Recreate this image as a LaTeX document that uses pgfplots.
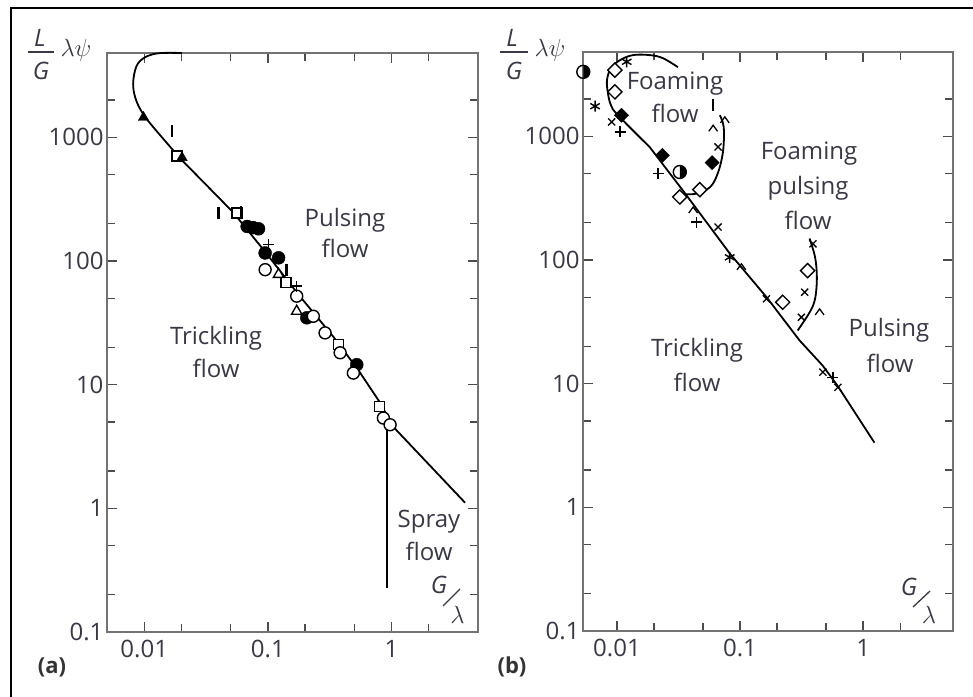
\documentclass[border=0pt]{standalone}
\usepackage{pgfplots}
\pgfplotsset{compat=1.18}
\usepackage{fontspec}
\setmainfont{Open Sans}
\definecolor{lbl}{rgb}{0.22,0.22,0.28}

% open caret and half-filled circle marks
\pgfdeclareplotmark{caret}{%
  \pgfpathmoveto{\pgfqpoint{-0.8\pgfplotmarksize}{-0.5\pgfplotmarksize}}%
  \pgfpathlineto{\pgfqpoint{0pt}{0.6\pgfplotmarksize}}%
  \pgfpathlineto{\pgfqpoint{0.8\pgfplotmarksize}{-0.5\pgfplotmarksize}}%
  \pgfusepathqstroke}
\pgfdeclareplotmark{halfdisc}{%
  \pgfpathcircle{\pgfpointorigin}{\pgfplotmarksize}%
  \pgfusepathqstroke
  \pgfpathmoveto{\pgfqpoint{0pt}{\pgfplotmarksize}}%
  \pgfpatharc{90}{-90}{\pgfplotmarksize}%
  \pgfpathclose
  \pgfusepathqfill}

\pgfplotsset{
  regime/.style={
    scale only axis,
    height=579pt,
    ymin=0.1, ymax=4800,
    xtick={0.01,0.1,1}, xticklabels={0.01,0.1,1},
    ytick={0.1,1,10,100,1000}, yticklabels={0.1,1,10,100,1000},
    minor xtick={0.02,0.05,0.2,0.5,2},
    minor ytick={0.2,0.5,2,5,20,50,200,500,2000},
    major tick length=10pt, minor tick length=8pt,
    tick style={black!70, line width=1.3pt},
    axis line style={black!55, line width=1.8pt},
    tick label style={font=\fontsize{24}{28}\selectfont, text=lbl},
    xticklabel style={yshift=-5pt},
    clip=false,
    anchor=south west,
  },
  curve/.style={black, line width=1.8pt, mark=none},
  opencirc/.style={only marks, mark=*, mark size=6pt, mark options={fill=white, draw=black, line width=1.4pt}},
  fullcirc/.style={only marks, mark=*, mark size=6.5pt, mark options={fill=black, draw=black}},
  opensq/.style={only marks, mark=square*, mark size=5pt, mark options={fill=white, draw=black, line width=1.4pt}},
  opentri/.style={only marks, mark=triangle*, mark size=6pt, mark options={fill=white, draw=black, line width=1.4pt}},
  fulltri/.style={only marks, mark=triangle*, mark size=6pt, mark options={fill=black, draw=black}},
  vbar/.style={only marks, mark=|, mark size=6pt, mark options={draw=black, line width=2.6pt}},
  cross/.style={only marks, mark=+, mark size=5.5pt, mark options={draw=black, line width=1.4pt}},
  xmk/.style={only marks, mark=x, mark size=5pt, mark options={draw=black, line width=1.3pt}},
  astmk/.style={only marks, mark=asterisk, mark size=5.5pt, mark options={draw=black, line width=1.4pt}},
  opendia/.style={only marks, mark=square*, mark size=5pt, mark options={rotate=45, fill=white, draw=black, line width=1.4pt}},
  fulldia/.style={only marks, mark=square*, mark size=5pt, mark options={rotate=45, fill=black, draw=black}},
  hat/.style={only marks, mark=caret, mark size=5.5pt, mark options={draw=black, line width=1.3pt}},
  halfc/.style={only marks, mark=halfdisc, mark size=6.5pt, mark options={fill=black, draw=black, line width=1.4pt}},
}
\tikzset{lab/.style={anchor=base, inner sep=0pt, font=\fontsize{24}{28}\selectfont, text=lbl}}

\begin{document}
\begin{tikzpicture}
\useasboundingbox (0,0) rectangle (973pt,696pt);
\draw[line width=2.5pt] (11pt,-5pt) -- (11pt,688pt) -- (980pt,688pt);

% ---------- (a)
\begin{loglogaxis}[regime, width=371pt, xmin=0.005, xmax=5.0, at={(107pt,64pt)}]
\addplot[curve, smooth, tension=0.6] coordinates {
 (0.0202,4800) (0.01346,4790) (0.0106,4530) (0.00894,3975) (0.0083,3237)
 (0.00815,2540) (0.0086,1995) (0.0096,1594) (0.0115,1250) (0.0195,676)};
\addplot[curve] coordinates {
 (0.0195,676) (0.0524,247) (0.0916,124) (0.182,51.6) (0.337,24.5)
 (0.536,13.2) (0.807,7.15) (1.03,4.57) (3.93,1.11)};
\addplot[black, line width=1.2pt] coordinates {(0.92,4.5) (0.92,0.227)};
\addplot[opensq] coordinates {(0.01837,706) (0.0561,245) (0.140,66.6) (0.372,21.1) (0.797,6.67)};
\addplot[fulltri] coordinates {(0.00987,1445) (0.0202,685)};
\addplot[opentri] coordinates {(0.122,77.8) (0.171,39.2)};
\addplot[fullcirc] coordinates {(0.068,190) (0.076,186) (0.084,182) (0.095,116) (0.122,106) (0.2065,34.7) (0.523,14.5)};
\addplot[opencirc] coordinates {(0.095,85) (0.171,51.9) (0.233,35.7) (0.290,26.2) (0.384,18.1) (0.491,12.4) (0.859,5.37) (0.973,4.74)};
\addplot[vbar] coordinates {(0.01675,1125) (0.0398,245) (0.0608,247) (0.142,85)};
\addplot[cross] coordinates {(0.101,136) (0.171,62.5)};
\end{loglogaxis}

% ---------- (b)
\begin{loglogaxis}[regime, width=370pt, xmin=0.0053, xmax=5.37, at={(583pt,65pt)}]
\addplot[curve, smooth, tension=0.6] coordinates {
 (0.0313,3620) (0.0236,4280) (0.0185,4530) (0.0135,4530) (0.0106,4125)
 (0.00894,3553) (0.0083,2840) (0.00845,2230) (0.00894,1783) (0.0102,1479) (0.0185,815)};
\addplot[curve] coordinates {
 (0.0185,815) (0.0343,365) (0.0824,113) (0.165,49.7) (0.305,22.3)
 (0.469,14.0) (0.619,9.63) (1.236,3.33)};
\addplot[curve, smooth, tension=0.6] coordinates {
 (0.033,342) (0.043,342) (0.0568,386) (0.0659,501) (0.0724,728)
 (0.0741,1058) (0.0724,1298) (0.0684,1479)};
\addplot[curve, smooth, tension=0.6] coordinates {
 (0.367,149) (0.404,109) (0.419,82) (0.419,62.2) (0.404,47) (0.367,37.6) (0.294,26.9)};
\addplot[halfc] coordinates {(0.00533,3316) (0.0324,514)};
\addplot[astmk] coordinates {(0.00664,1750) (0.012,4000) (0.0824,105)};
\addplot[opendia] coordinates {(0.00963,3425) (0.00963,2285) (0.0324,323) (0.0471,370) (0.222,45.5) (0.354,82)};
\addplot[fulldia] coordinates {(0.0109,1479) (0.0234,702) (0.0593,612)};
\addplot[xmk] coordinates {(0.00906,1306) (0.0663,819) (0.0663,184.5) (0.1637,48.5) (0.335,54.9) (0.315,34.4) (0.391,135) (0.471,12.4) (0.624,9.33)};
\addplot[cross] coordinates {(0.0106,1083) (0.0216,499) (0.0443,202) (0.568,11.2)};
\addplot[hat] coordinates {(0.0605,1154) (0.0752,1349) (0.1026,87.5) (0.443,37.8) (0.0416,252)};
\addplot[vbar] coordinates {(0.0605,1783)};
\end{loglogaxis}

% region labels (a)
\node[lab] at (345pt,469pt) {Pulsing};
\node[lab] at (345pt,438pt) {flow};
\node[lab] at (216pt,351pt) {Trickling};
\node[lab] at (216pt,318pt) {flow};
\node[lab] at (429pt,169pt) {Spray};
\node[lab] at (429pt,136pt) {flow};
% region labels (b)
\node[lab] at (675pt,606pt) {Foaming};
\node[lab] at (675pt,573pt) {flow};
\node[lab] at (809pt,536pt) {Foaming};
\node[lab] at (808pt,501pt) {pulsing};
\node[lab] at (808pt,466pt) {flow};
\node[lab] at (889pt,359pt) {Pulsing};
\node[lab] at (890pt,323pt) {flow};
\node[lab] at (697pt,339pt) {Trickling};
\node[lab] at (697pt,304pt) {flow};

% axis titles (a)
\node[lab] at (40pt,649pt) {\itshape L};
\draw[lbl, line width=1.3pt] (28pt,644pt) -- (54pt,644pt);
\node[lab] at (41pt,616pt) {\itshape G};
\node[lab] at (76pt,639pt) {$\lambda\psi$};
\node[lab] at (439pt,103pt) {\itshape G};
\draw[lbl, line width=1.3pt] (443pt,90pt) -- (460pt,107pt);
\node[lab] at (457.5pt,73pt) {$\lambda$};
\node[lab, font=\fontsize{22}{26}\selectfont\bfseries, text=black!80] at (52pt,23pt) {(a)};
% axis titles (b)
\node[lab] at (512pt,649pt) {\itshape L};
\draw[lbl, line width=1.3pt] (500pt,644pt) -- (528pt,644pt);
\node[lab] at (514pt,616pt) {\itshape G};
\node[lab] at (550pt,639pt) {$\lambda\psi$};
\node[lab] at (909pt,101pt) {\itshape G};
\draw[lbl, line width=1.3pt] (913pt,89pt) -- (930pt,105pt);
\node[lab] at (929pt,73pt) {$\lambda$};
\node[lab, font=\fontsize{22}{26}\selectfont\bfseries, text=black!80] at (512pt,23pt) {(b)};
\end{tikzpicture}
\end{document}
